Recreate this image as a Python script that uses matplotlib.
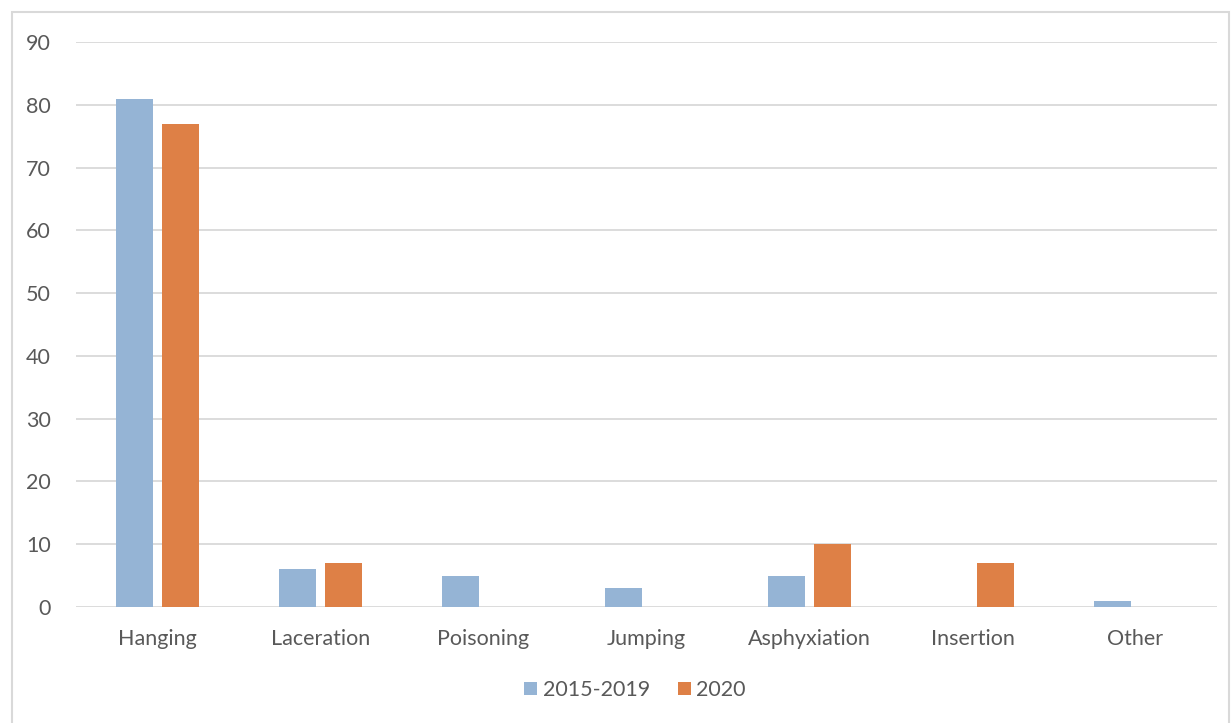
import matplotlib.pyplot as plt
from matplotlib.patches import Rectangle
import numpy as np

categories = ['Hanging', 'Laceration', 'Poisoning', 'Jumping', 'Asphyxiation', 'Insertion', 'Other']
vals_2015_2019 = [81, 6, 5, 3, 5, 0, 1]
vals_2020 = [77, 7, 0, 0, 10, 7, 0]
yticks = [0, 10, 20, 30, 40, 50, 60, 70, 80, 90]

plt.rcParams['font.family'] = ['Lato', 'DejaVu Sans']
txt = '#595959'
grid = '#D9D9D9'

W, H = 1231, 723
fig = plt.figure(figsize=(W / 100, H / 100), dpi=100)
ax = fig.add_axes([76 / W, (H - 607) / H, (1217 - 76) / W, (607 - 42) / H])

x = np.arange(len(categories))
bw = 0.226
ax.bar(x - 0.143, vals_2015_2019, bw, color='#95B4D5', label='2015-2019', zorder=3)
ax.bar(x + 0.143, vals_2020, bw, color='#DE8046', label='2020', zorder=3)

ax.set_xlim(-0.5, len(categories) - 0.5)
ax.set_ylim(0, 90)
ax.set_yticks(yticks)
ax.set_xticks(x)
ax.set_xticklabels(categories)
ax.tick_params(axis='both', length=0, labelsize=15.5, colors=txt)
ax.tick_params(axis='y', pad=18)
ax.tick_params(axis='x', pad=16)
ax.grid(axis='y', color=grid, linewidth=1.3, zorder=0)
for s in ax.spines.values():
    s.set_visible(False)

leg = fig.legend(loc='center', bbox_to_anchor=(635 / W, (H - 690) / H), ncol=2, frameon=False,
                 fontsize=15.5, handlelength=0.6, handleheight=0.6, handletextpad=0.25, columnspacing=1.3)
for t in leg.get_texts():
    t.set_color(txt)

fig.patches.append(Rectangle((12 / W, -0.01), (1229 - 12) / W, (H - 12) / H + 0.01,
                             transform=fig.transFigure, fill=False, edgecolor=grid, linewidth=1.5))

fig.savefig('out.png', dpi=100)
